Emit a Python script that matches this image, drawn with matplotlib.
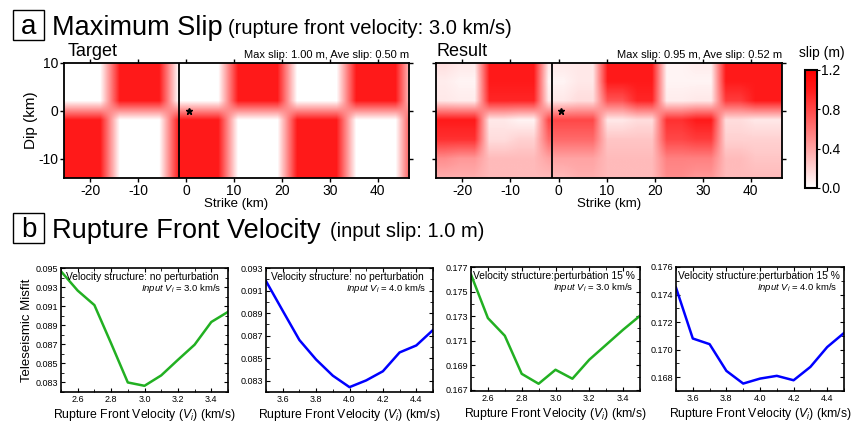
import numpy as np
import matplotlib
matplotlib.use("Agg")
import matplotlib.pyplot as plt
from matplotlib.colors import LinearSegmentedColormap
from matplotlib.ticker import FixedLocator, MultipleLocator
from matplotlib.patches import Rectangle

plt.rcParams['font.family'] = ['Liberation Sans', 'DejaVu Sans']
plt.rcParams['mathtext.fontset'] = 'custom'
plt.rcParams['mathtext.it'] = 'Liberation Sans:italic'
plt.rcParams['mathtext.rm'] = 'Liberation Sans'
plt.rcParams['axes.unicode_minus'] = False

# ---------------- data ----------------
# target checkerboard (cells of 12.3 km along strike; rows: dip 0..12 km, -16..0 km)
cell_x0 = -28.2
cell_w = 12.3
target_top = [0, 1, 0, 1, 0, 1, 0]
target_bottom = [1, 0, 1, 0, 1, 0, 1]

# inverted result (half-cells of 6.15 km, rows of 4 km from 12 to -16 km)
result_slip = [
    [0.15, 0.10, 1.00, 1.00, 0.10, 0.10, 1.00, 1.00, 0.05, 0.08, 1.00, 1.00, 1.00],
    [0.08, 0.05, 1.00, 1.00, 0.05, 0.10, 1.00, 1.00, 0.05, 0.05, 1.00, 1.00, 1.00],
    [0.10, 0.08, 0.95, 0.95, 0.10, 0.15, 0.75, 0.95, 0.08, 0.10, 0.85, 1.00, 1.00],
    [1.00, 1.00, 0.10, 0.05, 0.80, 0.80, 0.10, 0.15, 0.90, 1.00, 0.15, 0.10, 0.10],
    [0.90, 0.90, 0.15, 0.20, 0.65, 0.65, 0.25, 0.25, 0.80, 0.85, 0.20, 0.20, 0.20],
    [0.50, 0.45, 0.30, 0.30, 0.40, 0.40, 0.30, 0.30, 0.55, 0.55, 0.30, 0.25, 0.25],
    [0.35, 0.35, 0.30, 0.30, 0.30, 0.35, 0.30, 0.30, 0.50, 0.45, 0.30, 0.30, 0.30],
]
hypo_strike, hypo_dip = 0.6, 0.0
segment_boundary = -1.4

v_low = [2.5, 2.6, 2.7, 2.8, 2.9, 3.0, 3.1, 3.2, 3.3, 3.4, 3.5]
v_high = [3.5, 3.6, 3.7, 3.8, 3.9, 4.0, 4.1, 4.2, 4.3, 4.4, 4.5]
misfit_np_30 = [0.09465, 0.09263, 0.09111, 0.0871, 0.0830, 0.08265, 0.08374, 0.08537, 0.08696, 0.08934, 0.0904]
misfit_np_40 = [0.09184, 0.08921, 0.08661, 0.08488, 0.08345, 0.08243, 0.08303, 0.08384, 0.08551, 0.08613, 0.0875]
misfit_p15_30 = [0.17638, 0.17284, 0.17140, 0.16830, 0.16749, 0.16863, 0.16790, 0.16945, 0.17067, 0.17189, 0.17303]
misfit_p15_40 = [0.17450, 0.17081, 0.17040, 0.16846, 0.16754, 0.16790, 0.16810, 0.16778, 0.16875, 0.17019, 0.17121]

# ---------------- figure ----------------
W, H = 851, 421
fig = plt.figure(figsize=(W / 100, H / 100), dpi=100)


def ax_px(l, t, r, b):
    return fig.add_axes([l / W, 1 - b / H, (r - l) / W, (b - t) / H])


def ftxt(x, y, s, **kw):
    return fig.text(x / W, 1 - y / H, s, **kw)


def boxed_letter(l, t, r, b, s):
    fig.add_artist(Rectangle((l / W, 1 - b / H), (r - l) / W, (b - t) / H, transform=fig.transFigure,
                             fill=False, ec='black', lw=1.0))
    ftxt((l + r) / 2, b - 6, s, fontsize=20, ha='center', va='baseline')


cmap = LinearSegmentedColormap.from_list('wr', [(0, '#ffffff'), (1.0 / 1.2, '#ff1a1a'), (1, '#ff0000')])

# target raster (4.1 km x 4 km subfaults)
tgt = np.array([target_top, target_bottom], dtype=float)
tgt_img = np.repeat(np.repeat(tgt, [3, 4], axis=0), 3, axis=1)
tgt_ext = [cell_x0, cell_x0 + cell_w * len(target_top), -16, 12]

res = np.array(result_slip)
res_img = np.repeat(res, 2, axis=1)
res_ext = [cell_x0, cell_x0 + cell_w / 2 * res.shape[1], -16, 12]

xlim = (-25.5, 46.5)
ylim = (-14, 10)


def style_map(ax, ylabels=True):
    ax.set_xlim(*xlim)
    ax.set_ylim(*ylim)
    ax.set_xticks([-20, -10, 0, 10, 20, 30, 40])
    ax.set_yticks([-10, 0, 10])
    ax.tick_params(direction='out', length=3, width=1, labelsize=10, top=True, right=True, pad=1)
    if not ylabels:
        ax.set_yticklabels([])
    for s in ax.spines.values():
        s.set_linewidth(1.3)
    ax.set_xlabel('Strike (km)', fontsize=9.5, labelpad=0)
    ax.axvline(segment_boundary, color='black', lw=1.3)
    ax.plot(hypo_strike, hypo_dip, marker='*', color='black', ms=5, ls='none')


ax_t = ax_px(64, 63, 409, 178)
ax_t.imshow(tgt_img, cmap=cmap, vmin=0, vmax=1.2, extent=tgt_ext, interpolation='bilinear', aspect='auto')
style_map(ax_t)
ax_t.set_ylabel('Dip (km)', fontsize=11, labelpad=0)
ax_t.text(0.01, 1.03, 'Target', transform=ax_t.transAxes, fontsize=13, ha='left', va='bottom')
ax_t.text(1.0, 1.025, 'Max slip: 1.00 m, Ave slip: 0.50 m', transform=ax_t.transAxes, fontsize=8,
          ha='right', va='bottom', family=['Liberation Sans Narrow', 'Liberation Sans'])

ax_r = ax_px(436, 63, 782, 178)
im = ax_r.imshow(res_img, cmap=cmap, vmin=0, vmax=1.2, extent=res_ext, interpolation='bilinear', aspect='auto')
style_map(ax_r, ylabels=False)
ax_r.text(0.0, 1.03, 'Result', transform=ax_r.transAxes, fontsize=13, ha='left', va='bottom')
ax_r.text(1.0, 1.025, 'Max slip: 0.95 m, Ave slip: 0.52 m', transform=ax_r.transAxes, fontsize=8,
          ha='right', va='bottom', family=['Liberation Sans Narrow', 'Liberation Sans'])

cax = ax_px(805, 70, 817, 188)
cb = fig.colorbar(im, cax=cax, ticks=[0.0, 0.4, 0.8, 1.2])
cb.ax.set_yticklabels(['0.0', '0.4', '0.8', '1.2'])
cb.ax.tick_params(labelsize=10, length=2, width=0.8, pad=1)
cb.outline.set_linewidth(1.5)
ftxt(822, 53, 'slip (m)', fontsize=10, ha='center', va='center')

# headers
boxed_letter(13, 10, 44, 40, 'a')
ftxt(52, 35, 'Maximum Slip', fontsize=19.5, ha='left', va='baseline')
ftxt(228, 34, '(rupture front velocity: 3.0 km/s)', fontsize=14.5, ha='left', va='baseline')

boxed_letter(13, 213, 44, 243, 'b')
ftxt(52, 238, 'Rupture Front Velocity', fontsize=19.5, ha='left', va='baseline')
ftxt(330, 237, '(input slip: 1.0 m)', fontsize=14.5, ha='left', va='baseline')

# line panels
green = '#22b022'
blue = '#0000ff'
panels = [
    ((61, 268, 228, 392), v_low, misfit_np_30, green, (0.082, 0.095), [0.083, 0.085, 0.087, 0.089, 0.091, 0.093, 0.095],
     'Velocity structure: no perturbation', '3.0', True),
    ((266, 268, 433, 392), v_high, misfit_np_40, blue, (0.082, 0.093), [0.083, 0.085, 0.087, 0.089, 0.091, 0.093],
     'Velocity structure: no perturbation', '4.0', False),
    ((471, 267, 640, 391), v_low, misfit_p15_30, green, (0.1669, 0.177), [0.167, 0.169, 0.171, 0.173, 0.175, 0.177],
     'Velocity structure:perturbation 15 %', '3.0', False),
    ((676, 267, 844, 391), v_high, misfit_p15_40, blue, (0.167, 0.176), [0.168, 0.170, 0.172, 0.174, 0.176],
     'Velocity structure:perturbation 15 %', '4.0', False),
]
for (l, t, r, b), xs, ys, col, yl, yt, lab, vin, first in panels:
    ax = ax_px(l, t, r, b)
    ax.plot(xs, ys, color=col, lw=1.8)
    ax.set_xlim(xs[0], xs[-1])
    ax.set_ylim(*yl)
    ax.yaxis.set_major_locator(FixedLocator(yt))
    ax.yaxis.set_minor_locator(MultipleLocator(0.001))
    ax.set_yticklabels(['%.3f' % v for v in yt])
    xt = [round(xs[0] + 0.1 + 0.2 * k, 1) for k in range(5)]
    ax.xaxis.set_major_locator(FixedLocator(xt))
    ax.xaxis.set_minor_locator(MultipleLocator(0.1))
    ax.set_xticklabels(['%.1f' % v for v in xt])
    ax.tick_params(which='both', direction='in', top=True, right=True, labelsize=6.5, pad=2)
    ax.tick_params(which='major', length=3, width=0.8)
    ax.tick_params(which='minor', length=2, width=0.6)
    for s in ax.spines.values():
        s.set_linewidth(1.2)
    ax.set_xlabel(r'Rupture Front Velocity ($V_i$) (km/s)', fontsize=8.8, labelpad=2)
    if first:
        ax.set_ylabel('Teleseismic Misfit', fontsize=9.5, labelpad=2)
    ax.text(0.03 if 'no' in lab else 0.012, 0.97, lab, transform=ax.transAxes, fontsize=7.4, ha='left', va='top')
    ax.text(0.96, 0.885, r'$\mathit{Input}\ V_i$ = ' + vin + ' km/s', transform=ax.transAxes, fontsize=6.8,
            ha='right', va='top')

fig.savefig('out.png', dpi=100)
